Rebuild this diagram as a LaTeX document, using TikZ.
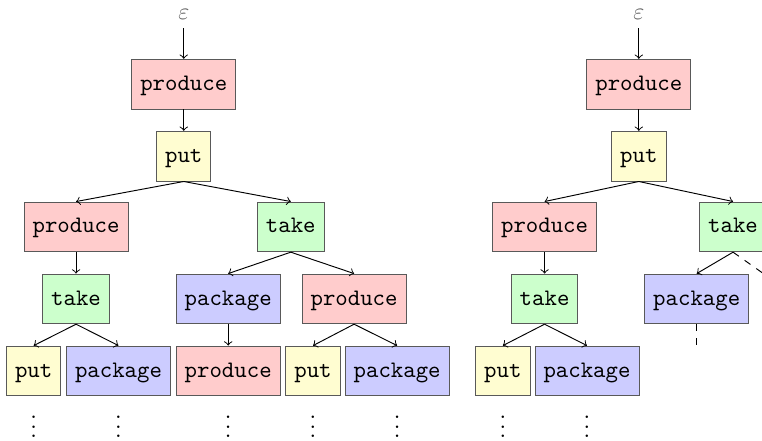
\documentclass[tikz,border=0pt]{standalone}
\usetikzlibrary{arrows}

\tikzset{
  act/.style={draw=black!65, minimum height=21pt, inner xsep=3.6pt,
    text height=1.6ex, text depth=.4ex, font=\ttfamily},
  prod/.style={act, fill=red!20},
  put/.style={act, fill=yellow!18},
  take/.style={act, fill=green!20},
  pack/.style={act, fill=blue!20},
}

\begin{document}
\begin{tikzpicture}
    \useasboundingbox (0,0) rectangle (11.32,-6.55);
    \clip (0,0) rectangle (11.32,-6.55);
    % first tree
    \node (e) at (2.73,-0.22) {\color{black!60}$\varepsilon$};
    \node[prod] (a) at (2.73,-1.25) {produce};
    \node[put] (b) at (2.73,-2.32) {put};
    \node[prod] (c1) at (1.13,-3.37) {produce};
    \node[take] (c2) at (4.32,-3.37) {take};
    \node[take] (d1) at (1.13,-4.44) {take};
    \node[pack] (d2) at (3.39,-4.44) {package};
    \node[prod] (d3) at (5.26,-4.44) {produce};
    \node[put] (f1) at (0.50,-5.51) {put};
    \node[pack] (f2) at (1.76,-5.51) {package};
    \node[prod] (f3) at (3.39,-5.51) {produce};
    \node[put] (f4) at (4.65,-5.51) {put};
    \node[pack] (f5) at (5.90,-5.51) {package};
    \foreach \i in {1,...,5}
    \node at (f\i |- 0,-6.24) {$\vdots$};
    \draw[->] (e) -- (a);
    \draw[->] (a) -- (b);
    \draw[->] (b.south) -- (c1.north);
    \draw[->] (b.south) -- (c2.north);
    \draw[->] (c1) -- (d1);
    \draw[->] (c2.south) -- (d2.north);
    \draw[->] (c2.south) -- (d3.north);
    \draw[->] (d1.south) -- (f1.north);
    \draw[->] (d1.south) -- (f2.north);
    \draw[->] (d2) -- (f3);
    \draw[->] (d3.south) -- (f4.north);
    \draw[->] (d3.south) -- (f5.north);
    % second tree, partly explored
    \node (e') at (9.49,-0.22) {\color{black!60}$\varepsilon$};
    \node[prod] (a') at (9.49,-1.25) {produce};
    \node[put] (b') at (9.49,-2.32) {put};
    \node[prod] (c1') at (8.09,-3.37) {produce};
    \node[take] (c2') at (10.89,-3.37) {take};
    \node[take] (d1') at (8.09,-4.44) {take};
    \node[pack] (d2') at (10.35,-4.44) {package};
    \coordinate (d3') at (11.42,-4.12);
    \coordinate (g') at (10.35,-5.12);
    \node[put] (f1') at (7.47,-5.51) {put};
    \node[pack] (f2') at (8.72,-5.51) {package};
    \foreach \i in {1,2}
    \node at (f\i' |- 0,-6.24) {$\vdots$};
    \draw[->] (e') -- (a');
    \draw[->] (a') -- (b');
    \draw[->] (b'.south) -- (c1'.north);
    \draw[->] (b'.south) -- (c2'.north);
    \draw[->] (c1') -- (d1');
    \draw[->] (c2'.south) -- (d2'.north);
    \draw[dashed] (c2'.south) -- (d3');
    \draw[dashed] (d2') -- (g');
    \draw[->] (d1'.south) -- (f1'.north);
    \draw[->] (d1'.south) -- (f2'.north);
  \end{tikzpicture}
\end{document}
